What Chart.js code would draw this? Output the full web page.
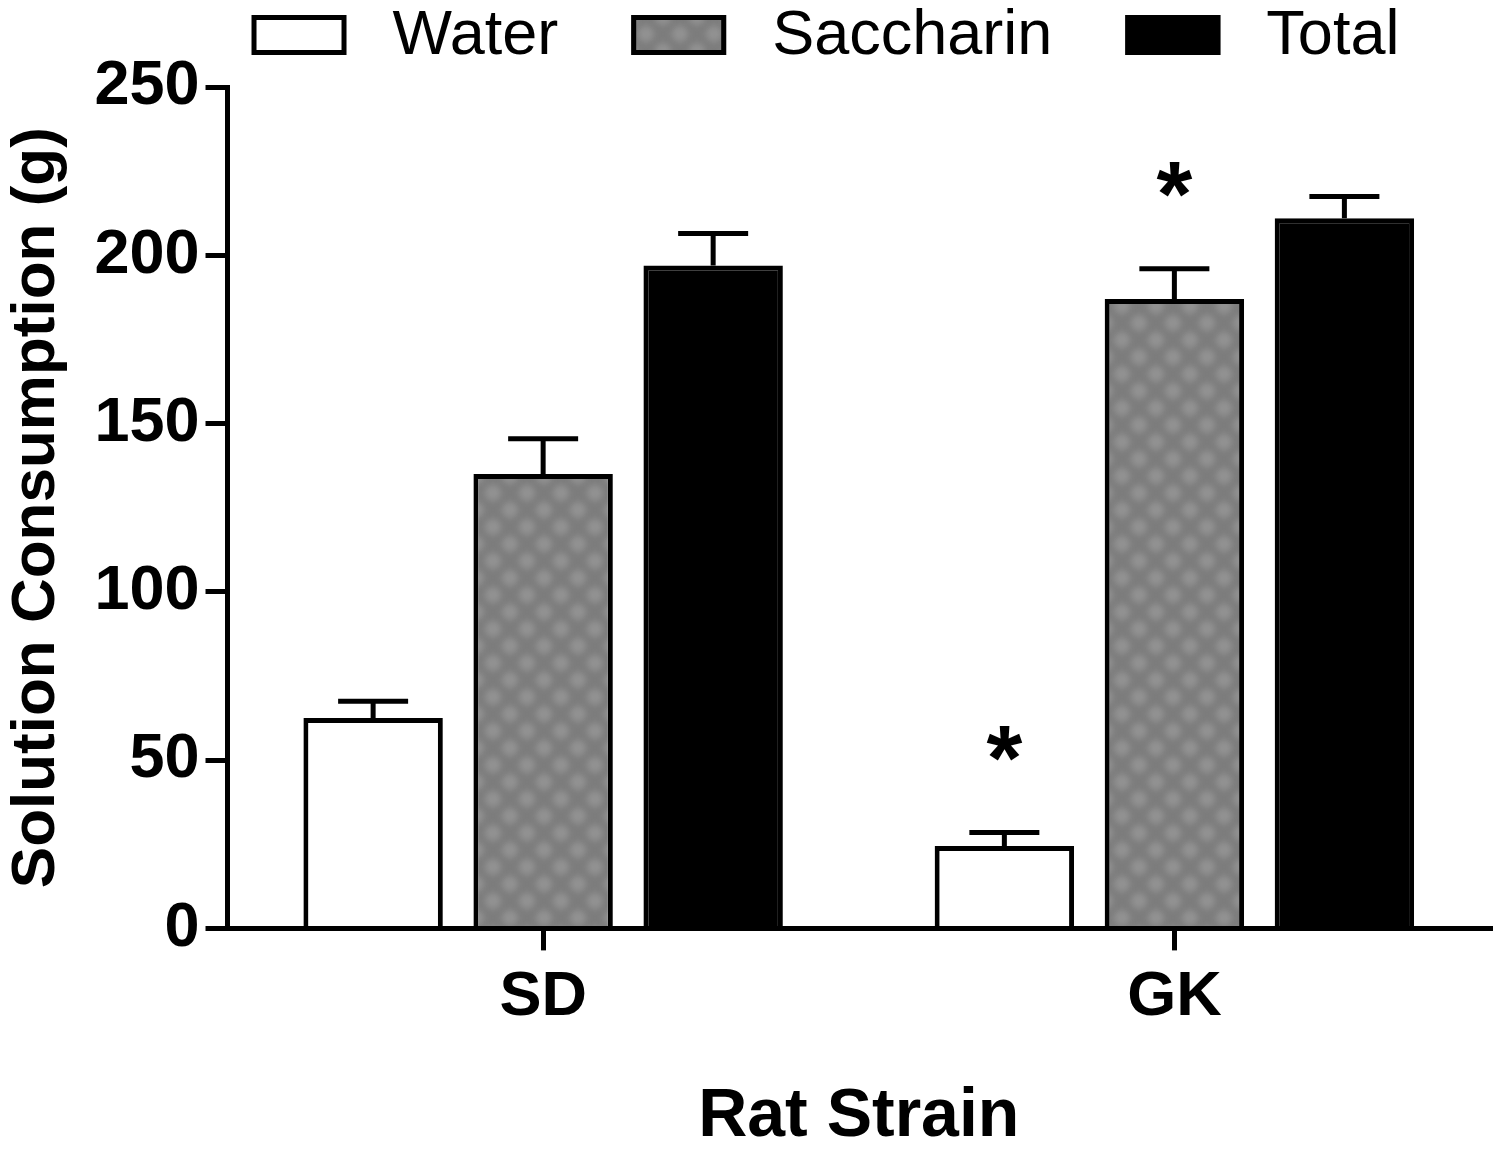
<!DOCTYPE html>
<html>
<head>
<meta charset="utf-8">
<script src="https://cdn.jsdelivr.net/npm/chart.js@4.4.0/dist/chart.umd.min.js"></script>
<style>
    html, body { margin: 0; padding: 0; background: #fff; }
</style>
</head>
<body>
<canvas id="chart" width="1500" height="1151"></canvas>
<script>
const STRAINS = ['SD', 'GK'];
const WATER = [62.5, 24.5];
const WATER_SEM = [5, 4];
const SACCHARIN = [135, 187];
const SACCHARIN_SEM = [10.5, 9];
const TOTAL = [197, 211];
const TOTAL_SEM = [9.5, 6.5];
const WATER_SIG = [false, true];
const SACCHARIN_SIG = [false, true];
const Y_MIN = 0;
const Y_MAX = 250;
const Y_STEP = 50;

const FONT = "'Liberation Sans', Arial, Helvetica, sans-serif";
const canvas = document.getElementById('chart');
const ctx = canvas.getContext('2d');

// grey checker fill like the saccharin bars
function checkerPattern(){
    const c = document.createElement('canvas');
    c.width = 34;
    c.height = 34;
    const g = c.getContext('2d');
    g.fillStyle = '#7d7d7d';
    g.fillRect(0, 0, 34, 34);
    g.filter = 'blur(3px)';
    g.fillStyle = '#929292';
    [[0, 0], [34, 0], [0, 34], [34, 34], [17, 17]].forEach(([x, y]) => {
        g.beginPath();
        g.arc(x, y, 8, 0, Math.PI * 2);
        g.fill();
    });
    return ctx.createPattern(c, 'repeat');
}

// upper error whiskers + significance stars
const errorBars = {
    id: 'errorBars',
    afterDatasetsDraw(chart){
        const c = chart.ctx;
        const y = chart.scales.y;
        c.save();
        c.strokeStyle = '#000';
        c.lineWidth = 5;
        chart.data.datasets.forEach((ds, i) => {
            chart.getDatasetMeta(i).data.forEach((bar, j) => {
                const top = y.getPixelForValue(ds.data[j] + ds.sem[j]);
                c.beginPath();
                c.moveTo(bar.x, bar.y);
                c.lineTo(bar.x, top);
                c.moveTo(bar.x - 35, top);
                c.lineTo(bar.x + 35, top);
                c.stroke();
                if (ds.sig && ds.sig[j]) {
                    c.fillStyle = '#000';
                    c.font = 'bold 92px ' + FONT;
                    c.textAlign = 'center';
                    c.textBaseline = 'alphabetic';
                    const m = c.measureText('*');
                    const mid = (m.actualBoundingBoxAscent - m.actualBoundingBoxDescent) / 2;
                    c.fillText('*', bar.x, top - 89 + mid);
                }
            });
        });
        c.restore();
    }
};

// legend row across the top
const topLegend = {
    id: 'topLegend',
    afterDraw(chart){
        const c = chart.ctx;
        const area = chart.chartArea;
        c.save();
        c.font = '63px ' + FONT;
        c.textBaseline = 'middle';
        c.textAlign = 'left';
        let x = area.left + 24;
        const cy = 35;
        chart.data.datasets.forEach(ds => {
            c.fillStyle = ds.backgroundColor;
            c.fillRect(x, cy - 20, 95, 40);
            c.strokeStyle = '#000';
            c.lineWidth = 5;
            c.strokeRect(x + 2.5, cy - 17.5, 90, 35);
            c.fillStyle = '#000';
            c.fillText(ds.label, x + 95 + 46, cy + 2);
            x += 95 + 46 + c.measureText(ds.label).width + 73;
        });
        c.restore();
    }
};

new Chart(ctx, {
    type: 'bar',
    data: {
        labels: STRAINS,
        datasets: [
            { label: 'Water', data: WATER, sem: WATER_SEM, sig: WATER_SIG, backgroundColor: '#ffffff' },
            { label: 'Saccharin', data: SACCHARIN, sem: SACCHARIN_SEM, sig: SACCHARIN_SIG, backgroundColor: checkerPattern() },
            { label: 'Total', data: TOTAL, sem: TOTAL_SEM, backgroundColor: '#000000' }
        ]
    },
    options: {
        responsive: false,
        animation: false,
        devicePixelRatio: 1,
        layout: { padding: { top: 87, right: 10, bottom: 0, left: 0 } },
        datasets: {
            bar: {
                borderColor: '#000',
                borderWidth: 5,
                categoryPercentage: 0.808,
                barPercentage: 0.82
            }
        },
        plugins: {
            legend: { display: false },
            tooltip: { enabled: false }
        },
        scales: {
            x: {
                grid: { display: true, offset: false, drawOnChartArea: false, drawTicks: true, tickLength: 22, color: '#000', lineWidth: 5 },
                border: { color: '#000', width: 5 },
                ticks: { color: '#000', padding: 9, font: { family: FONT, size: 63, weight: 'bold' } },
                title: {
                    display: true, text: 'Rat Strain', color: '#000',
                    padding: { top: 39, bottom: 0 },
                    font: { family: FONT, size: 68, weight: 'bold', lineHeight: 1.0 }
                }
            },
            y: {
                min: Y_MIN,
                max: Y_MAX,
                grid: { display: true, drawOnChartArea: false, drawTicks: true, tickLength: 22, color: '#000', lineWidth: 5 },
                border: { color: '#000', width: 5 },
                ticks: { stepSize: Y_STEP, color: '#000', padding: 6, font: { family: FONT, size: 63, weight: 'bold' } },
                title: {
                    display: true, text: 'Solution Consumption (g)', color: '#000',
                    padding: { top: 0, bottom: 14 },
                    font: { family: FONT, size: 62, weight: 'bold' }
                }
            }
        }
    },
    plugins: [errorBars, topLegend]
});
</script>
</body>
</html>
